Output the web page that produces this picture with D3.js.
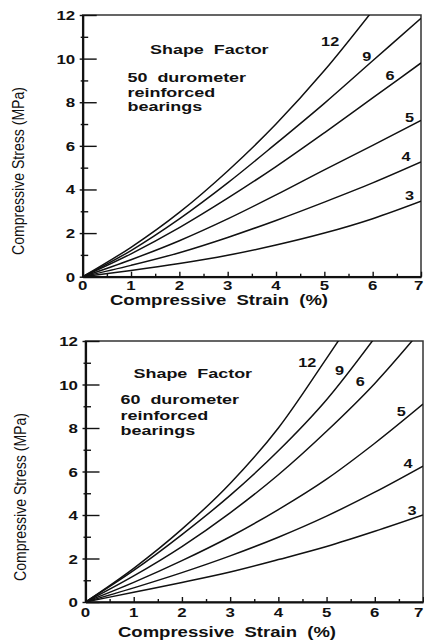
<!DOCTYPE html>
<html>
<head>
<meta charset="utf-8">
<script src="https://cdn.jsdelivr.net/npm/d3@7"></script>
<style>
  body { margin: 0; background: #fff; }
  svg { display: block; }
  text { font-family: "Liberation Sans", Arial, sans-serif; fill: #111; white-space: pre; }
</style>
</head>
<body>
<svg id="chart" width="424" height="641"></svg>
<script>
// Compressive stress-strain curves for reinforced elastomeric bearings
const strain = [0, 1, 2, 3, 4, 5, 6, 7];
const shapeFactors = [3, 4, 5, 6, 9, 12];
const xTicks = [0, 1, 2, 3, 4, 5, 6, 7];
const yTicks = [0, 2, 4, 6, 8, 10, 12];

// 50 durometer: one row per shape factor, same order as shapeFactors
const stress50 = [
  [0, 0.28, 0.6, 0.98, 1.45, 2.0, 2.66, 3.46],
  [0, 0.52, 1.1, 1.8, 2.58, 3.42, 4.3, 5.26],
  [0, 0.78, 1.65, 2.65, 3.75, 4.9, 6.02, 7.17],
  [0, 1.05, 2.25, 3.6, 5.05, 6.6, 8.2, 9.8],
  [0, 1.2, 2.65, 4.3, 6.1, 7.95, 9.9, 11.85],
  [0, 1.35, 2.95, 4.85, 7.0, 9.45, 12.2, null]
];

// 60 durometer
const stress60 = [
  [0, 0.45, 0.9, 1.38, 1.95, 2.55, 3.25, 4.0],
  [0, 0.65, 1.35, 2.12, 2.98, 3.95, 5.05, 6.25],
  [0, 0.9, 1.9, 3.0, 4.25, 5.65, 7.3, 9.1],
  [0, 1.2, 2.55, 4.1, 5.85, 7.85, 10.05, 12.6],
  [0, 1.45, 3.1, 4.9, 6.95, 9.3, 12.15, null],
  [0, 1.55, 3.35, 5.45, 8.0, 11.2, 14.5, null]
];

// where each shape factor number sits, [strain, stress]
const labelAt50 = [[6.76, 3.72], [6.69, 5.5], [6.76, 7.3], [6.36, 9.2], [5.88, 10.08], [5.12, 10.77]];
const labelAt60 = [[6.77, 4.22], [6.69, 6.36], [6.55, 8.77], [5.7, 10.15], [5.27, 10.65], [4.6, 11.0]];

const svg = d3.select('#chart');

// Bold text in the scan is stretched sideways, so scale it
function stretched(g, str, x, y, opts = {}) {
  return g.append('text')
    .attr('transform', `translate(${x},${y}) scale(${opts.sx || 1.35},1)`)
    .attr('text-anchor', opts.anchor || 'start')
    .attr('dominant-baseline', opts.baseline || 'auto')
    .style('font-size', (opts.size || 13) + 'px')
    .style('font-weight', opts.weight || 'bold')
    .text(str);
}

function drawPanel(p) {
  const x = d3.scaleLinear().domain([0, 7]).range([p.left, p.right]);
  const y = d3.scaleLinear().domain([0, 12]).range([p.bottom, p.top]);
  const g = svg.append('g');

  // clip so curves stop at the frame
  g.append('clipPath').attr('id', p.id)
    .append('rect')
    .attr('x', p.left).attr('y', p.top)
    .attr('width', p.right - p.left).attr('height', p.bottom - p.top);

  // frame
  g.append('rect')
    .attr('x', p.left).attr('y', p.top)
    .attr('width', p.right - p.left).attr('height', p.bottom - p.top)
    .attr('fill', 'none')
    .attr('stroke', '#333')
    .attr('stroke-width', 1.5);

  // y axis: major ticks at labels, minor in between, all pointing in
  const yMajor = g.append('g').attr('transform', `translate(${p.left},0)`)
    .call(d3.axisLeft(y).tickValues(yTicks).tickSizeInner(-14).tickSizeOuter(0).tickFormat(''));
  yMajor.selectAll('.tick line').attr('x1', -3);
  const yMinor = g.append('g').attr('transform', `translate(${p.left},0)`)
    .call(d3.axisLeft(y).tickValues(d3.range(1, 12, 2)).tickSizeInner(-5.5).tickSizeOuter(0).tickFormat(''));
  yMinor.selectAll('.tick line').attr('x1', -2);
  yMinor.select('.domain').remove();

  // x axis
  g.append('g').attr('transform', `translate(0,${p.bottom})`)
    .call(d3.axisBottom(x).tickValues(xTicks).tickSizeInner(-5).tickSizeOuter(0).tickFormat(''));
  const xMinor = g.append('g').attr('transform', `translate(0,${p.bottom})`)
    .call(d3.axisBottom(x).tickValues(d3.range(0.5, 7, 1)).tickSizeInner(-3).tickSizeOuter(0).tickFormat(''));
  xMinor.select('.domain').remove();

  g.selectAll('.tick line').attr('stroke', '#111').attr('stroke-width', 1.4);
  g.selectAll('.domain').attr('stroke', '#111').attr('stroke-width', 2.2);

  // tick labels
  for (const v of yTicks) {
    stretched(g, String(v), p.left - 7.5, y(v) + 0.8, { anchor: 'end', baseline: 'central', size: 12.5 });
  }
  for (const v of xTicks) {
    // last label would spill past the page edge, so pin its right side
    const last = v === xTicks[xTicks.length - 1];
    stretched(g, String(v), last ? 423.5 : x(v), p.bottom + p.xLabelDrop,
      { anchor: last ? 'end' : 'middle', size: 12.5 });
  }

  // axis titles
  g.append('text')
    .attr('transform', `translate(${p.yTitleX},${p.yTitleY}) rotate(-90) scale(1,1.2)`)
    .attr('text-anchor', 'middle')
    .attr('dominant-baseline', 'central')
    .attr('textLength', 168)
    .attr('lengthAdjust', 'spacingAndGlyphs')
    .style('font-size', '13px')
    .text('Compressive Stress (MPa)');

  g.append('text')
    .attr('x', p.xTitleX).attr('y', p.xTitleY)
    .attr('textLength', 218)
    .attr('lengthAdjust', 'spacingAndGlyphs')
    .style('font-size', '14px')
    .style('font-weight', 'bold')
    .text('Compressive  Strain  (%)');

  // curves
  const line = d3.line()
    .defined(d => d[1] != null)
    .x(d => x(d[0]))
    .y(d => y(d[1]))
    .curve(d3.curveMonotoneX);

  const curves = g.append('g').attr('clip-path', `url(#${p.id})`);
  p.stress.forEach(row => {
    curves.append('path')
      .datum(strain.map((s, i) => [s, row[i]]))
      .attr('d', line)
      .attr('fill', 'none')
      .attr('stroke', '#111')
      .attr('stroke-width', 1.5);
  });

  // shape factor numbers
  shapeFactors.forEach((sf, i) => {
    const [sx, sy] = p.labelAt[i];
    stretched(g, String(sf), x(sx), y(sy), { anchor: 'middle', baseline: 'central', size: 13, sx: 1.25 });
  });

  // annotation block
  stretched(g, 'Shape  Factor', p.noteX, p.noteY, { size: 13, sx: 1.38 });
  stretched(g, p.durometer + '  durometer', p.blockX, p.blockY[0], { size: 13, sx: 1.38 });
  stretched(g, 'reinforced', p.blockX, p.blockY[1], { size: 13, sx: 1.38 });
  stretched(g, 'bearings', p.blockX, p.blockY[2], { size: 13, sx: 1.38 });
}

drawPanel({
  id: 'clip50', left: 82.7, right: 421, top: 15, bottom: 276.7,
  stress: stress50, labelAt: labelAt50, durometer: '50',
  xLabelDrop: 12.8, yTitleX: 19, yTitleY: 171, xTitleX: 110, xTitleY: 304.5,
  noteX: 150, noteY: 54, blockX: 127.5, blockY: [81.5, 96.8, 110.8]
});

drawPanel({
  id: 'clip60', left: 85.5, right: 423, top: 341, bottom: 602,
  stress: stress60, labelAt: labelAt60, durometer: '60',
  xLabelDrop: 14.5, yTitleX: 21, yTitleY: 497, xTitleX: 118, xTitleY: 637,
  noteX: 133.5, noteY: 377.5, blockX: 120.5, blockY: [403.5, 420, 435]
});
</script>
</body>
</html>
